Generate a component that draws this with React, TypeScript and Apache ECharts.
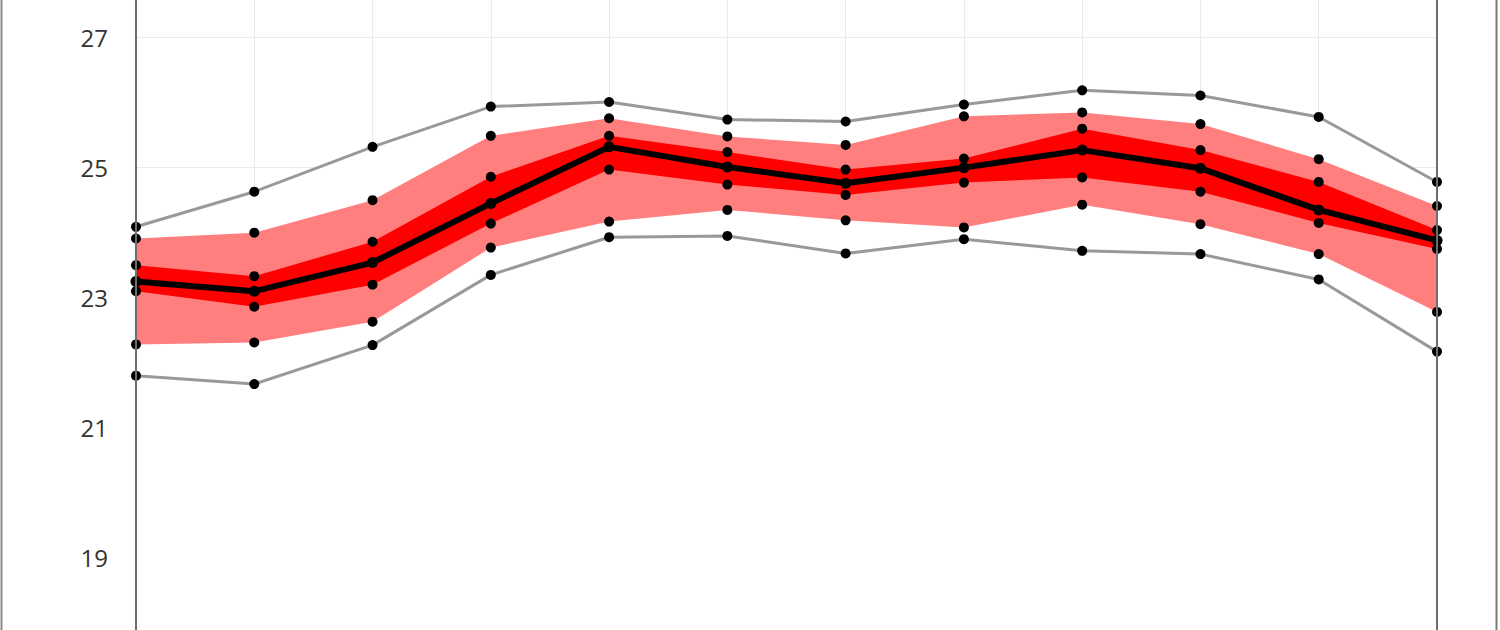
import React, { useEffect, useRef } from "react";
import * as echarts from "echarts";

const categories = ["1", "2", "3", "4", "5", "6", "7", "8", "9", "10", "11", "12"];
const maxLine = [24.08, 24.62, 25.31, 25.93, 26.0, 25.73, 25.7, 25.96, 26.18, 26.1, 25.77, 24.77];
const outerHigh = [23.9, 23.99, 24.49, 25.48, 25.75, 25.47, 25.34, 25.78, 25.84, 25.66, 25.12, 24.4];
const innerHigh = [23.49, 23.32, 23.85, 24.85, 25.48, 25.23, 24.96, 25.13, 25.59, 25.26, 24.77, 24.03];
const meanLine = [23.24, 23.09, 23.53, 24.44, 25.31, 25.0, 24.75, 24.99, 25.26, 24.98, 24.34, 23.87];
const innerLow = [23.09, 22.85, 23.19, 24.13, 24.96, 24.73, 24.57, 24.76, 24.84, 24.62, 24.14, 23.74];
const outerLow = [22.27, 22.3, 22.62, 23.76, 24.16, 24.34, 24.18, 24.07, 24.42, 24.12, 23.66, 22.77];
const minLine = [21.79, 21.66, 22.26, 23.34, 23.92, 23.94, 23.67, 23.89, 23.71, 23.66, 23.27, 22.16];
const yTicks = [17, 19, 21, 23, 25, 27, 29];

const diff = (a: number[], b: number[]) => a.map((v, i) => +(v - b[i]).toFixed(4));

const dots = (name: string, data: number[]) => ({
  name,
  type: "line",
  data,
  z: 20,
  symbol: "circle",
  symbolSize: 10,
  showSymbol: true,
  itemStyle: { color: "#000" },
  lineStyle: { width: 0, opacity: 0 },
  silent: true,
});

export default function App() {
  const ref = useRef<HTMLDivElement>(null);
  useEffect(() => {
    if (!ref.current) return;
    const chart = echarts.init(ref.current, null, { renderer: "svg" });
    const H = 780;
    chart.setOption({
      animation: false,
      backgroundColor: "#fff",
      grid: { left: 136, right: 63, top: 0, bottom: 0, show: false, containLabel: false, outerBoundsMode: "none" },
      xAxis: {
        type: "category",
        data: categories,
        boundaryGap: false,
        axisLine: { show: false },
        axisTick: { show: false },
        axisLabel: { show: false },
        splitLine: { show: true, lineStyle: { color: "#ebebeb", width: 1 } },
      },
      yAxis: {
        type: "value",
        min: yTicks[0],
        max: yTicks[yTicks.length - 1],
        interval: 2,
        axisLine: { show: false },
        axisTick: { show: false },
        axisLabel: {
          color: "#333",
          fontSize: 24,
          fontFamily: "Open Sans",
          margin: 28,
          showMinLabel: false,
          showMaxLabel: false,
        },
        splitLine: { show: true, lineStyle: { color: "#ebebeb", width: 1 } },
      },
      graphic: [
        { type: "line", z: 100, shape: { x1: 136, y1: 0, x2: 136, y2: H }, style: { stroke: "#6e6e6e", lineWidth: 2 } },
        { type: "line", z: 100, shape: { x1: 1437, y1: 0, x2: 1437, y2: H }, style: { stroke: "#6e6e6e", lineWidth: 2 } },
        { type: "line", z: 100, shape: { x1: 1.5, y1: 0, x2: 1.5, y2: H }, style: { stroke: "#8a8a8a", lineWidth: 2 } },
        { type: "line", z: 100, shape: { x1: 1496.5, y1: 0, x2: 1496.5, y2: H }, style: { stroke: "#7a7a7a", lineWidth: 2 } },
      ],
      series: [
        {
          name: "cover",
          type: "line",
          data: maxLine,
          z: 1,
          symbol: "none",
          lineStyle: { width: 0, opacity: 0 },
          areaStyle: { color: "#ffffff", opacity: 1, origin: "start" },
          silent: true,
        },
        {
          name: "outerBase",
          type: "line",
          stack: "outer",
          data: outerLow,
          z: 2,
          symbol: "none",
          lineStyle: { width: 0, opacity: 0 },
          silent: true,
        },
        {
          name: "outerBand",
          type: "line",
          stack: "outer",
          data: diff(outerHigh, outerLow),
          z: 2,
          symbol: "none",
          lineStyle: { width: 0, opacity: 0 },
          areaStyle: { color: "#ff7f7f", opacity: 1 },
          silent: true,
        },
        {
          name: "innerBase",
          type: "line",
          stack: "inner",
          data: innerLow,
          z: 3,
          symbol: "none",
          lineStyle: { width: 0, opacity: 0 },
          silent: true,
        },
        {
          name: "innerBand",
          type: "line",
          stack: "inner",
          data: diff(innerHigh, innerLow),
          z: 3,
          symbol: "none",
          lineStyle: { width: 0, opacity: 0 },
          areaStyle: { color: "#ff0000", opacity: 1 },
          silent: true,
        },
        {
          name: "max",
          type: "line",
          data: maxLine,
          z: 10,
          symbol: "circle",
          symbolSize: 10,
          itemStyle: { color: "#000" },
          lineStyle: { color: "#999", width: 3 },
          silent: true,
        },
        {
          name: "min",
          type: "line",
          data: minLine,
          z: 10,
          symbol: "circle",
          symbolSize: 10,
          itemStyle: { color: "#000" },
          lineStyle: { color: "#999", width: 3 },
          silent: true,
        },
        {
          name: "mean",
          type: "line",
          data: meanLine,
          z: 12,
          symbol: "circle",
          symbolSize: 11,
          itemStyle: { color: "#000" },
          lineStyle: { color: "#000", width: 6 },
          silent: true,
        },
        dots("outerHighDots", outerHigh),
        dots("innerHighDots", innerHigh),
        dots("innerLowDots", innerLow),
        dots("outerLowDots", outerLow),
      ],
    });
    return () => chart.dispose();
  }, []);
  return (
    <div
      style={{
        position: "fixed",
        left: 0,
        top: 0,
        width: 1500,
        height: 630,
        overflow: "hidden",
        background: "#fff",
      }}
    >
      <div ref={ref} style={{ position: "absolute", left: 0, top: -93, width: 1500, height: 780 }} />
    </div>
  );
}
